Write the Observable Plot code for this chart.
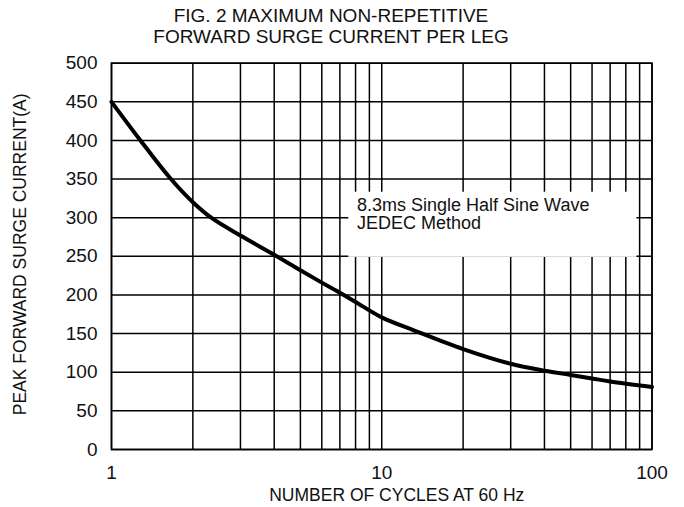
<!DOCTYPE html>
<html>
<head>
<meta charset="utf-8">
<script src="https://cdn.jsdelivr.net/npm/d3@7"></script>
<script src="https://cdn.jsdelivr.net/npm/@observablehq/plot@0.6"></script>
<style>
  body { margin: 0; background: #fff; }
  #title {
    box-sizing: border-box; height: 47px; padding-top: 6px; padding-right: 22px;
    width: 684px; text-align: center; font-family: "Liberation Sans", Arial, sans-serif;
    font-size: 19px; line-height: 20.6px; color: #111;
  }
</style>
</head>
<body>
<div id="title">FIG. 2 MAXIMUM NON-REPETITIVE<br>FORWARD SURGE CURRENT PER LEG</div>
<div id="chart"></div>
<script>
// Curve: number of cycles at 60 Hz vs peak forward surge current (A)
const cycles  = [1, 1.28, 1.65, 2, 2.36, 3, 4, 5, 6, 7, 8, 10, 13.2, 20, 30, 40, 50, 60, 70, 100];
const current = [450, 400, 351, 320, 299, 277, 252, 232, 216, 203, 191, 171, 154, 130, 111, 102, 96.5, 92, 88, 81];

// Axis ticks and grid
const xTicks = [1, 10, 100];
const yTicks = [0, 50, 100, 150, 200, 250, 300, 350, 400, 450, 500];
const xGrid = [1, 2, 3, 4, 5, 6, 7, 8, 9, 10, 20, 30, 40, 50, 60, 70, 80, 90, 100];

// Annotation box (data coordinates) and its text
const noteBox = [{x1: 7.55, x2: 87.9, y1: 248.7, y2: 333}];
const noteText = [{x: 8.1, y: 325.5, text: "8.3ms Single Half Sine Wave\nJEDEC Method"}];

const xLabel = "NUMBER OF CYCLES AT 60 Hz";
const yLabel = "PEAK FORWARD SURGE CURRENT(A)";

const data = cycles.map((c, i) => ({c, v: current[i]}));

const chart = Plot.plot({
  width: 684,
  height: 460,
  marginLeft: 111,
  marginRight: 32.5,
  marginTop: 15.7,
  marginBottom: 58,
  style: {fontFamily: "Liberation Sans, Arial, sans-serif", fontSize: "19px", color: "#111", background: "#fff", overflow: "visible"},
  x: {type: "log", domain: [1, 100]},
  y: {domain: [0, 500]},
  marks: [
    Plot.ruleX(xGrid, {stroke: "#000", strokeWidth: 1.5}),
    Plot.ruleY(yTicks, {stroke: "#000", strokeWidth: 1.5}),
    Plot.rect(noteBox, {x1: "x1", x2: "x2", y1: "y1", y2: "y2", fill: "#fff"}),
    Plot.text(noteText, {x: "x", y: "y", text: "text", textAnchor: "start", lineAnchor: "top", lineHeight: 1.0, fontSize: 18, fill: "#111"}),
    Plot.line(data, {x: "c", y: "v", stroke: "#000", strokeWidth: 4, curve: "catmull-rom"}),
    Plot.frame({stroke: "#000", strokeWidth: 1.6}),
    Plot.axisX(xTicks, {tickSize: 0, tickPadding: 16, tickFormat: d => String(d), label: null, fontSize: 19}),
    Plot.axisY(yTicks, {tickSize: 0, tickPadding: 14, tickFormat: d => String(d), label: null, fontSize: 19}),
    Plot.text([xLabel], {frameAnchor: "bottom", lineAnchor: "top", dy: 39, dx: 15, fontSize: 17.5, fill: "#111"}),
    Plot.text([yLabel], {frameAnchor: "left", textAnchor: "middle", rotate: -90, lineAnchor: "middle", dx: -91, dy: -2, fontSize: 17.5, fill: "#111"})
  ]
});
document.getElementById("chart").appendChild(chart);
</script>
</body>
</html>
